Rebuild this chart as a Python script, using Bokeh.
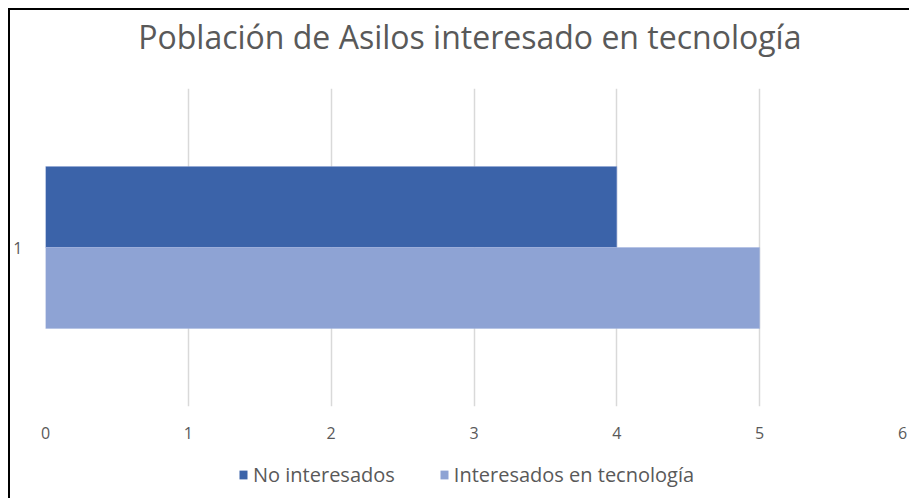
from bokeh.plotting import figure
from bokeh.models import (ColumnDataSource, FactorRange, Range1d, Legend, LegendItem,
                          SingleIntervalTicker, Spacer)
from bokeh.layouts import row, column
from bokeh.transform import dodge
from bokeh.embed import file_html
from bokeh.resources import INLINE

categories = ["1"]
no_interesados = [4]
interesados = [5]
series_names = ["No interesados", "Interesados en tecnología"]
title_text = "Población  de Asilos interesado en tecnología"

src = ColumnDataSource(dict(cat=categories, no=no_interesados, si=interesados))

FONT = "Open Sans"
GREY = "#595959"
DARK = "#3B63A9"
LIGHT = "#8EA3D4"
W = 899

# title strip
tt = figure(width=W, height=78, output_backend="svg", toolbar_location=None,
            x_range=Range1d(0, 1), y_range=Range1d(0, 1),
            x_axis_type=None, y_axis_type=None,
            min_border_left=35, min_border_right=7, min_border_top=47, min_border_bottom=0)
tt.outline_line_color = None
tt.title.text = title_text
tt.title.align = "center"
tt.title.text_font = FONT
tt.title.text_font_size = "32px"
tt.title.text_font_style = "normal"
tt.title.text_color = GREY
tt.title.standoff = 0

# main chart
p = figure(width=W, height=356, output_backend="svg", toolbar_location=None,
           y_range=FactorRange(factors=categories, range_padding=0),
           x_range=Range1d(0, 6),
           min_border_left=35, min_border_right=7, min_border_top=0, min_border_bottom=38)

p.hbar(y=dodge("cat", 0.1274, range=p.y_range), right="no", left=0, height=0.2547,
       source=src, fill_color=DARK, line_color="#8EA3D4", line_width=0.5)
p.hbar(y=dodge("cat", -0.1274, range=p.y_range), right="si", left=0, height=0.2547,
       source=src, fill_color=LIGHT, line_color="#a9b9e0", line_width=0.5)

p.xaxis.ticker = SingleIntervalTicker(interval=1)
p.xaxis.axis_line_color = None
p.xaxis.major_tick_line_color = None
p.xaxis.minor_tick_line_color = None
p.xaxis.major_tick_out = 0
p.xaxis.major_tick_in = 0
p.xaxis.major_label_text_font = FONT
p.xaxis.major_label_text_font_size = "16px"
p.xaxis.major_label_text_color = GREY
p.xaxis.major_label_standoff = 16

p.yaxis.axis_line_color = None
p.yaxis.major_tick_line_color = None
p.yaxis.minor_tick_line_color = None
p.yaxis.major_tick_out = 0
p.yaxis.major_tick_in = 0
p.yaxis.major_label_text_font = FONT
p.yaxis.major_label_text_font_size = "16px"
p.yaxis.major_label_text_color = GREY
p.yaxis.major_label_standoff = 23

p.xgrid.grid_line_color = "#d9d9d9"
p.xgrid.grid_line_width = 1.5
p.ygrid.grid_line_color = None
p.outline_line_color = None

# legend strip below the chart
lsrc = ColumnDataSource(dict(cat=categories, no=no_interesados, si=interesados))
lg = figure(width=W, height=54, output_backend="svg", toolbar_location=None,
            x_range=Range1d(0, 6), y_range=FactorRange(factors=categories),
            x_axis_type=None, y_axis_type=None,
            min_border_left=35, min_border_right=7, min_border_top=0, min_border_bottom=0)
lg.outline_line_color = None
l1 = lg.hbar(y="cat", right="no", left=0, height=0.5, source=lsrc,
             fill_color=DARK, line_color=None, visible=False)
l2 = lg.hbar(y="cat", right="si", left=0, height=0.5, source=lsrc,
             fill_color=LIGHT, line_color=None, visible=False)
legend = Legend(items=[LegendItem(label=series_names[0], renderers=[l1]),
                       LegendItem(label=series_names[1], renderers=[l2])],
                orientation="horizontal", location=(193, 10),
                border_line_color=None, background_fill_alpha=0,
                label_text_font=FONT, label_text_font_size="20px", label_text_color=GREY,
                glyph_width=10, glyph_height=11, spacing=44, label_standoff=5,
                padding=0, margin=0, click_policy="none")
lg.add_layout(legend, "center")

BLACK = {"background-color": "black"}
layout = row(
    Spacer(width=8, height=498),
    column(
        Spacer(width=901, height=8),
        Spacer(width=901, height=2, styles=BLACK),
        row(Spacer(width=2, height=488, styles=BLACK), column(tt, p, lg)),
    ),
)

open("out.html", "w").write(file_html(layout, INLINE))
